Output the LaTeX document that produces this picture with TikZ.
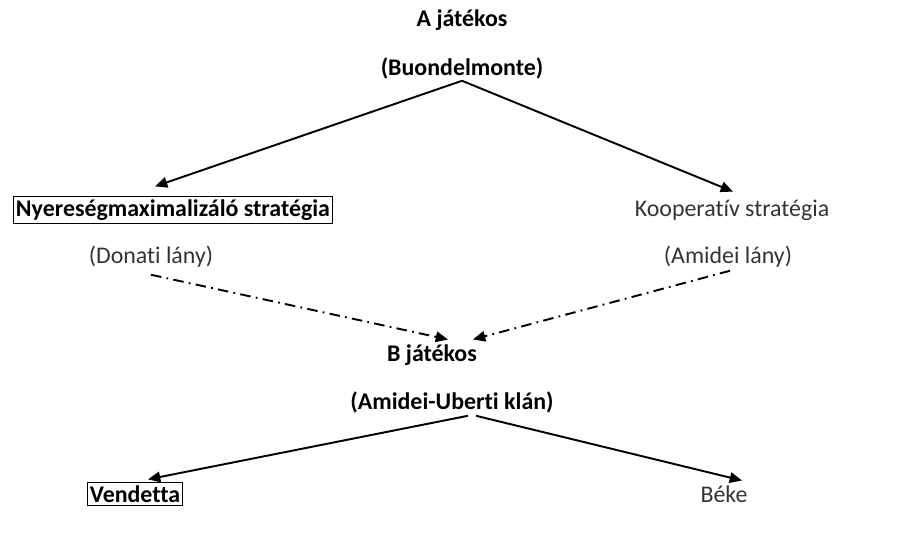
\documentclass[tikz,border=0pt]{standalone}
\usepackage{fontspec}
\setmainfont{Carlito}[Ligatures=NoCommon]
\usetikzlibrary{arrows.meta, positioning, calc}

\begin{document}
\begin{tikzpicture}[>={Triangle[length=7pt,width=6pt]},
  lbl/.style={font=\fontsize{13.6}{16}\selectfont, text=black!80, inner sep=1pt},
  blbl/.style={lbl, font=\fontsize{13.6}{16}\selectfont\bfseries, text=black},
  keret/.style={blbl, draw, line width=0.6pt, inner sep=1.5pt},
  nyil/.style={->, line width=1.1pt},
  szaggat/.style={->, line width=1.1pt, dash pattern=on 6pt off 3pt on 1pt off 3pt}]

  \useasboundingbox (0,0) rectangle (17.94,10.68);

  % Sor 1: A játékos
  \node[blbl] (ajat) at (9.24, 10.28) {A játékos};
  \node[blbl] (buon) at (9.24, 9.32) {(Buondelmonte)};

  % Sor 2: stratégiák
  \node[keret] (nyer) at (3.46, 6.48) {Nyereségmaximalizáló stratégia};
  \node[lbl]   (koop) at (14.64, 6.48) {Kooperatív stratégia};
  \node[lbl]   (donati) at (3.02, 5.54) {(Donati lány)};
  \node[lbl]   (amidei) at (14.56, 5.54) {(Amidei lány)};

  % Sor 3: B játékos
  \node[blbl] (bjat) at (8.64, 3.58) {B játékos};
  \node[blbl] (klan) at (9.04, 2.64) {(Amidei-Uberti klán)};

  % Sor 4: kimenetek
  \node[keret] (vend) at (2.70, 0.80) {Vendetta};
  \node[lbl]   (beke) at (14.48, 0.80) {Béke};

  % Nyilak
  \draw[nyil] (buon.south) -- ($(nyer.north)+(-0.36,0.2)$);
  \draw[nyil] (buon.south) -- ($(koop.north)+(0.02,0.12)$);
  \draw[szaggat] ($(donati.south)+(0,-0.1)$) -- ($(bjat.north)+(0.32,0.06)$);
  \draw[szaggat] ($(amidei.south)+(0.04,-0.02)$) -- ($(bjat.north)+(0.82,0.06)$);
  \draw[nyil] ($(klan.south)+(0.32,-0.02)$) -- ($(vend.north)+(0.26,0.06)$);
  \draw[nyil] ($(klan.south)+(0.48,-0.02)$) -- ($(beke.north)+(0.36,0.06)$);
\end{tikzpicture}
\end{document}
